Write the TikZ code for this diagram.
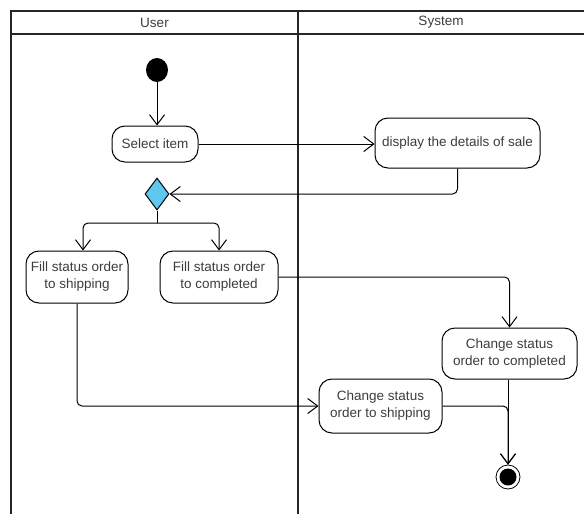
\documentclass[tikz,border=0pt]{standalone}
\usepackage{fontspec}
\setmainfont{Liberation Sans}
\usetikzlibrary{arrows.meta,shapes.geometric}
\definecolor{txt}{RGB}{60,60,60}
\definecolor{diafill}{RGB}{95,200,238}
\tikzset{
  act/.style={draw=black, line width=1pt, rounded corners=13pt, align=center, text=txt,
    font=\fontsize{13.5}{17}\selectfont, inner sep=0pt},
  flow/.style={draw=black, line width=1pt, rounded corners=5pt,
    -{Straight Barb[length=10pt,width=15pt,line width=1pt]}},
  lane/.style={draw=black!85, line width=1.4pt},
  hdr/.style={text=txt, font=\fontsize{13.5}{16}\selectfont}
}
\begin{document}
\begin{tikzpicture}[x=1pt,y=-1pt]
\useasboundingbox (0,0) rectangle (584,514);
% swimlanes
\draw[lane] (584,11) -- (11,11) -- (11,514);
\draw[lane] (11,34) -- (584,34);
\draw[lane] (298,11) -- (298,514);
\node[hdr] (hu) at (154.5,22.5) {User};
\node[hdr] (hs) at (441,22.5) {System};
% nodes
\node[fill=black, minimum width=22pt, minimum height=24pt, inner sep=0pt, ellipse] (start) at (157,70) {};
\node[act, minimum width=86pt, minimum height=36pt] (sel) at (155,144) {Select item};
\node[act, minimum width=165pt, minimum height=50pt] (disp) at (457.5,143) {display the details of sale};
\node[diamond, draw=black, line width=1pt, fill=diafill, minimum width=24pt, minimum height=32pt, inner sep=0pt] (dia) at (157,194) {};
\node[act, minimum width=102pt, minimum height=52pt] (fship) at (77,277) {Fill status order\\to shipping};
\node[act, minimum width=118pt, minimum height=52pt] (fcomp) at (219,277) {Fill status order\\to completed};
\node[act, minimum width=135pt, minimum height=51pt] (ccomp) at (509.5,353.5) {Change status\\order to completed};
\node[act, minimum width=123pt, minimum height=54pt] (cship) at (380.5,406) {Change status\\order to shipping};
\node[circle, draw=black, line width=0.8pt, minimum size=24pt, inner sep=0pt] (final) at (508,477) {};
\fill[black] (final.center) circle (8.5pt);
\coordinate (split) at (157,223);
% connectors
\draw[flow] (start.south) -- (start.south |- sel.north);
\draw[flow] (sel.east) -- (disp.west |- sel.east);
\draw[flow] (disp.south) |- (dia.east);
\draw[draw=black, line width=1pt] (dia.south) -- (split);
\draw[flow] (split) -| ([xshift=6pt]fship.north);
\draw[flow] (split) -| (fcomp.north);
\draw[flow] (fcomp.east) -| (ccomp.north);
\draw[flow] (fship.south) |- (cship.west);
\draw[flow] (ccomp.south -| final.north) -- (final.north);
\draw[flow] (cship.east) -| (final.north);
\end{tikzpicture}
\end{document}
